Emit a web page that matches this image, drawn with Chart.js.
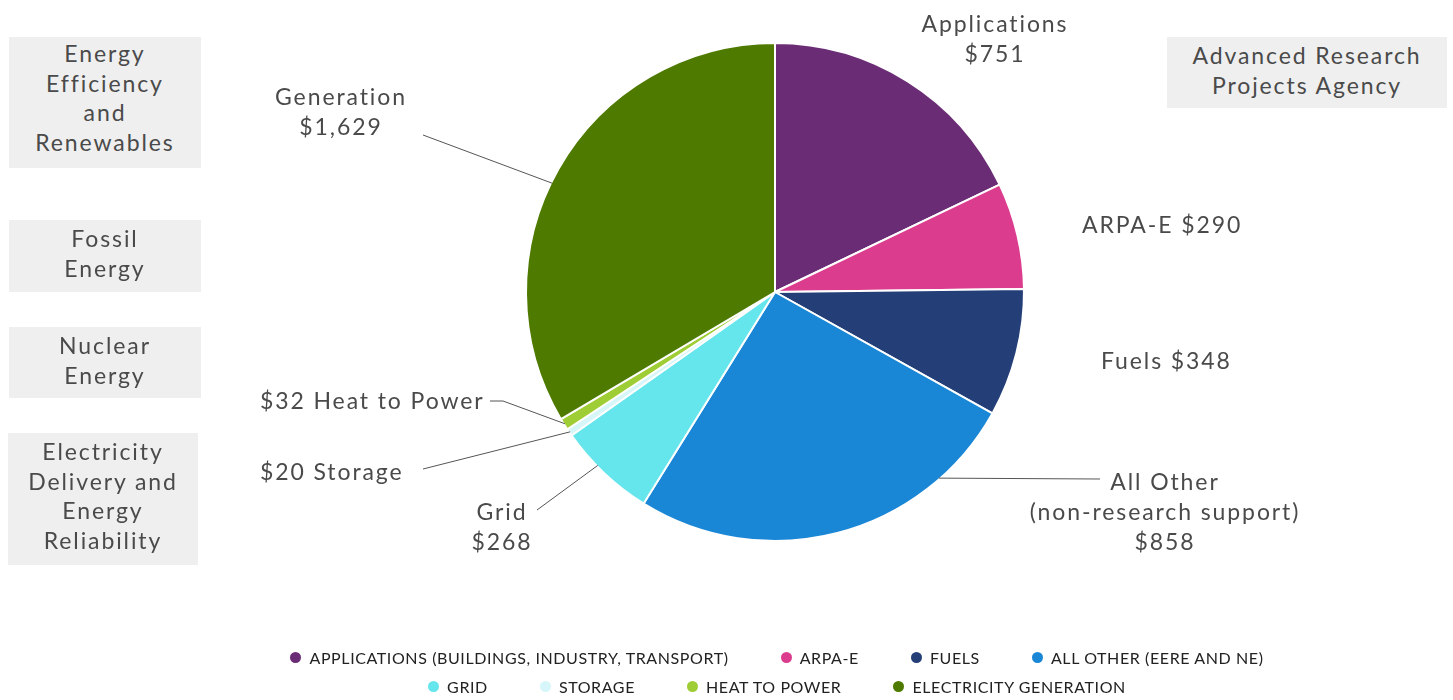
<!DOCTYPE html>
<html>
<head>
<meta charset="utf-8">
<script src="https://cdn.jsdelivr.net/npm/chart.js@4"></script>
<style>
  html, body { margin: 0; padding: 0; background: #fff; }
  #wrap { position: relative; width: 1453px; height: 700px; overflow: hidden; font-family: Lato, "Noto Sans", sans-serif; color: #4a4a4a; }
  #chart { position: absolute; left: 0; top: 0; }
  .lbl { position: absolute; font-size: 23px; line-height: 30px; letter-spacing: 1.9px; white-space: nowrap; }
  .c { text-align: center; transform: translateX(-50%); }
  .box { position: absolute; background: #efefef; text-align: center; font-size: 23px; line-height: 29.5px; letter-spacing: 1.9px; color: #4a4a4a; }
  #legend { position: absolute; left: 0; top: 643px; width: 1554px; font-size: 16px; color: #222; letter-spacing: 0.6px; }
  .row { display: flex; justify-content: center; height: 29px; align-items: center; }
  .item { display: flex; align-items: center; margin: 0 26px; white-space: nowrap; }
  .dot { width: 11px; height: 11px; border-radius: 50%; margin-right: 8px; }
</style>
</head>
<body>
<div id="wrap">
  <canvas id="chart" width="1453" height="700"></canvas>

  <div class="box" style="left:9px;top:37px;width:192px;height:131px;padding-top:2px;box-sizing:border-box">Energy<br>Efficiency<br>and<br>Renewables</div>
  <div class="box" style="left:9px;top:220px;width:192px;height:72px;padding-top:4px;box-sizing:border-box">Fossil<br>Energy</div>
  <div class="box" style="left:9px;top:327px;width:192px;height:71px;padding-top:4px;box-sizing:border-box">Nuclear<br>Energy</div>
  <div class="box" style="left:8px;top:433px;width:190px;height:132px;padding-top:4px;box-sizing:border-box">Electricity<br>Delivery and<br>Energy<br>Reliability</div>
  <div class="box" style="left:1167px;top:37px;width:280px;height:71px;padding-top:4px;box-sizing:border-box">Advanced Research<br>Projects Agency</div>

  <div class="lbl c" style="left:995px;top:8px">Applications<br>$751</div>
  <div class="lbl c" style="left:341px;top:81px">Generation<br>$1,629</div>
  <div class="lbl" style="left:1082px;top:209px">ARPA-E $290</div>
  <div class="lbl" style="left:1101px;top:345px">Fuels $348</div>
  <div class="lbl c" style="left:1165px;top:466px">All Other<br>(non-research support)<br>$858</div>
  <div class="lbl" style="left:260px;top:385px">$32 Heat to Power</div>
  <div class="lbl" style="left:260px;top:456px">$20 Storage</div>
  <div class="lbl c" style="left:502px;top:496px">Grid<br>$268</div>

  <div id="legend"></div>
</div>
<script>
// categories in drawing order, clockwise from 12 o'clock
var categories = ["Applications", "ARPA-E", "Fuels", "All Other", "Grid", "Storage", "Heat to Power", "Generation"];
var legendNames = ["APPLICATIONS (BUILDINGS, INDUSTRY, TRANSPORT)", "ARPA-E", "FUELS", "ALL OTHER (EERE AND NE)",
                   "GRID", "STORAGE", "HEAT TO POWER", "ELECTRICITY GENERATION"];
// slice sizes as drawn in the reference pie ($M); All Other and Generation
// slices are drawn wider/narrower than their printed labels ($858 / $1,629)
var sliceValues = [751, 290, 348, 1080, 268, 20, 32, 1407];
var colors = ["6a2c74", "dc3c8e", "243f78", "1a86d6", "65e5ec", "d6f6fa", "9fcd36", "4e7a00"];

// leader lines: slice index, position along the slice (0..1), then the text-side points
var leaders = [
  { index: 7, t: 0.47, points: [[423, 135]] },
  { index: 6, t: 0.5, points: [[503, 401], [490, 401]] },
  { index: 5, t: 0.5, points: [[423, 469]] },
  { index: 4, t: 0.6, points: [[537, 510]] },
  { index: 3, t: 0.21, points: [[1100, 479]] }
];

function hex(c) { return "#" + c; }

var leaderPlugin = {
  id: "leaders",
  afterDatasetsDraw: function(chart) {
    var ctx = chart.ctx;
    var arcs = chart.getDatasetMeta(0).data;
    ctx.save();
    ctx.strokeStyle = "#555";
    ctx.lineWidth = 1;
    leaders.forEach(function(l) {
      var arc = arcs[l.index];
      var p = arc.getProps(["x", "y", "startAngle", "endAngle", "outerRadius"], true);
      var a = p.startAngle + l.t * (p.endAngle - p.startAngle);
      var r = p.outerRadius - 1;
      ctx.beginPath();
      ctx.moveTo(p.x + r * Math.cos(a), p.y + r * Math.sin(a));
      l.points.forEach(function(pt) { ctx.lineTo(pt[0], pt[1]); });
      ctx.stroke();
    });
    ctx.restore();
  }
};

var chart = new Chart(document.getElementById("chart").getContext("2d"), {
  type: "pie",
  data: {
    labels: categories,
    datasets: [{
      data: sliceValues,
      backgroundColor: colors.map(hex),
      borderColor: "#ffffff",
      borderWidth: 2
    }]
  },
  options: {
    responsive: false,
    animation: false,
    layout: { padding: { left: 525, right: 428, top: 42, bottom: 158 } },
    plugins: { legend: { display: false }, tooltip: { enabled: false } }
  },
  plugins: [leaderPlugin]
});

// html legend, two rows of four
var legend = document.getElementById("legend");
[[0, 4], [4, 8]].forEach(function(range) {
  var row = document.createElement("div");
  row.className = "row";
  for (var i = range[0]; i < range[1]; i++) {
    var item = document.createElement("div");
    item.className = "item";
    item.innerHTML = '<span class="dot" style="background:' + hex(colors[i]) + '"></span>' + legendNames[i];
    row.appendChild(item);
  }
  legend.appendChild(row);
});
</script>
</body>
</html>
